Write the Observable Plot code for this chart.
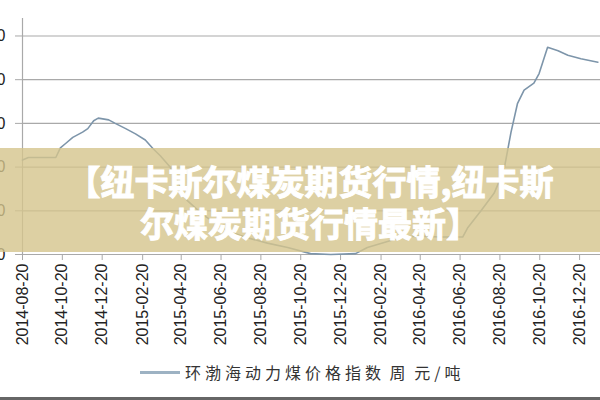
<!DOCTYPE html>
<html>
<head>
<meta charset="utf-8">
<script src="https://cdn.jsdelivr.net/npm/d3@7"></script>
<script src="https://cdn.jsdelivr.net/npm/@observablehq/plot@0.6"></script>
<style>
  html, body { margin: 0; padding: 0; background: #fff; }
  #wrap { position: relative; width: 600px; height: 400px; overflow: hidden; background: #fff; }
  #chart { position: absolute; left: 0; top: 0; }
  #band { position: absolute; left: 0; top: 148px; width: 600px; height: 104px; background: rgba(212,196,140,0.8); }
  .tl { position: absolute; left: 20px; width: 580px; text-align: center; color: #fff; font-family: "Noto Sans CJK SC", sans-serif; font-weight: 700; font-size: 34px; line-height: 36px; white-space: nowrap; -webkit-text-stroke: 1px #fff; }
  #legend { position: absolute; left: 140px; top: 361px; height: 22px; display: flex; align-items: center; font-family: "Noto Sans CJK SC", sans-serif; font-size: 16px; letter-spacing: 4px; word-spacing: -3px; color: #333; white-space: pre; }
  #legend .sw { width: 40px; height: 3px; background: #9db2c3; margin-right: 5px; }
  #bottomline { position: absolute; left: 0; top: 397px; width: 600px; height: 3px; background: #666; }
</style>
</head>
<body>
<div id="wrap">
  <div id="chart"></div>
  <div id="band"></div>
  <div class="tl" style="top:163px">【纽卡斯尔煤炭期货行情,纽卡斯</div>
  <div class="tl" style="top:205px">尔煤炭期货行情最新】</div>
  <div id="legend"></div>
  <div id="bottomline"></div>
</div>
<script>
const dates = [
  "2014-08-20","2014-08-29","2014-10-10","2014-10-17","2014-10-25","2014-11-05","2014-11-20","2014-11-28",
  "2014-12-07","2014-12-14","2014-12-30","2015-01-09","2015-01-25","2015-02-09","2015-02-24","2015-03-08",
  "2015-03-19","2015-04-03","2015-04-19","2015-04-29","2015-05-24","2015-06-30","2015-07-31","2015-08-30",
  "2015-09-30","2015-11-04","2015-12-05","2016-01-12","2016-01-30","2016-03-06","2016-03-21","2016-04-20",
  "2016-05-20","2016-06-24","2016-07-02","2016-07-22","2016-08-11","2016-08-26","2016-09-06","2016-09-16",
  "2016-09-26","2016-10-11","2016-10-19","2016-11-01","2016-11-17","2016-12-02","2016-12-22","2017-01-17"
];
const values = [
  478,481,481,492,497,504,510,514,
  523,526,524,520,514,508,501,491,
  483,470,447,432,415,397,389,383,
  378,371,370,371,378,386,390,391,
  390,390,401,420,440,466,510,543,
  558,566,577,607,603,598,594,590
];
const yTicks = [370, 420, 470, 520, 570, 620];
const xTickLabels = ["2014-08-20","2014-10-20","2014-12-20","2015-02-20","2015-04-20","2015-06-20","2015-08-20",
  "2015-10-20","2015-12-20","2016-02-20","2016-04-20","2016-06-20","2016-08-20","2016-10-20","2016-12-20"];
const seriesName = "环渤海动力煤价格指数 周 元/吨";

const data = dates.map((d, i) => ({date: new Date(d), value: values[i]}));
const xTicks = xTickLabels.map(d => new Date(d));
const x0 = new Date("2014-08-20"), x1 = new Date("2017-01-21");

const chart = Plot.plot({
  width: 600,
  height: 360,
  marginTop: 18,
  marginLeft: 22,
  marginRight: 0,
  marginBottom: 106,
  style: {fontFamily: "Liberation Sans, Arial, sans-serif", color: "#222", background: "transparent", overflow: "visible"},
  x: {type: "utc", domain: [x0, x1]},
  y: {domain: [370, 640]},
  marks: [
    Plot.gridY(yTicks, {stroke: "#a9a9a9", strokeOpacity: 1, strokeWidth: 1.2}),
    Plot.axisY({ticks: yTicks, tickSize: 7, tickPadding: 10, label: null, fontSize: 16, stroke: "#a9a9a9", fill: "#222", tickFormat: d => String(d)}),
    Plot.ruleX([x0], {stroke: "#a9a9a9", strokeWidth: 1.2}),
    Plot.ruleY([370], {stroke: "#a9a9a9", strokeWidth: 1.2}),
    Plot.axisX({ticks: xTicks, tickFormat: d3.utcFormat("%Y-%m-%d"), tickRotate: -90, tickSize: 6, tickPadding: 3, label: null, fontSize: 16, stroke: "#a9a9a9", fill: "#222"}),
    Plot.line(data, {x: "date", y: "value", stroke: "#7d95aa", strokeWidth: 1.6})
  ]
});
document.getElementById("chart").appendChild(chart);

const lg = document.getElementById("legend");
const sw = document.createElement("span"); sw.className = "sw"; lg.appendChild(sw);
const tx = document.createElement("span"); tx.textContent = seriesName; lg.appendChild(tx);
</script>
</body>
</html>
